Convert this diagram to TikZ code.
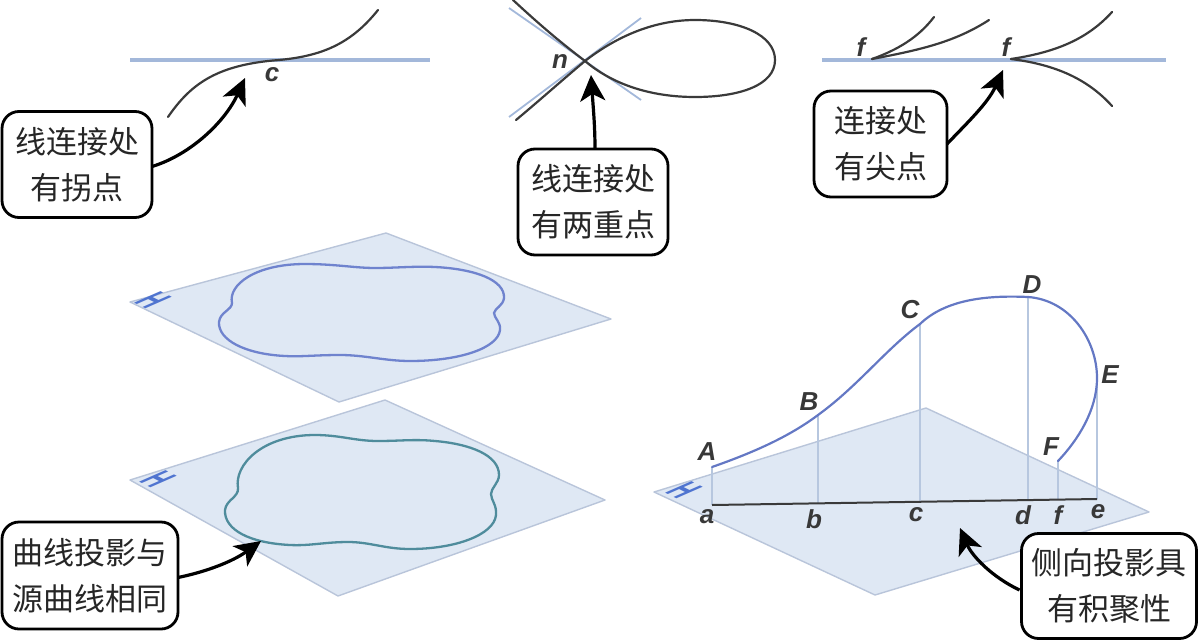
\documentclass[tikz,border=0pt]{standalone}
\usepackage{fontspec}
\setmainfont{Liberation Sans}
\newfontfamily\cjk{Noto Sans CJK SC}
\usetikzlibrary{arrows.meta}
\definecolor{planefill}{HTML}{DFE8F4}
\definecolor{planeedge}{HTML}{B9C5DA}
\definecolor{bluel}{HTML}{A3B8DA}
\definecolor{dropl}{HTML}{B7C7DF}
\definecolor{curveblue}{HTML}{6F83CE}
\definecolor{curveteal}{HTML}{4F8C9C}
\definecolor{curvespace}{HTML}{6478C4}
\definecolor{inkd}{HTML}{3A3A3A}
\definecolor{hblue}{HTML}{4F74D0}
\tikzset{
  callout/.style={draw=black,line width=2.8pt,rounded corners=17pt,fill=white,inner sep=0pt,outer sep=0pt,align=center,
    font=\cjk\fontsize{31}{46}\selectfont,text=black!85},
  pointer/.style={line width=3.2pt,black,-{Stealth[length=26pt,width=25pt,inset=7pt]}},
  plane/.style={fill=planefill,draw=planeedge,line width=1.4pt,line join=round},
  refline/.style={bluel,line width=3pt},
  drawn/.style={inkd,line width=2.2pt,line cap=round},
  dropline/.style={dropl,line width=1.6pt},
  lab/.style={font=\fontsize{26}{28}\selectfont\bfseries\itshape,text=black!78,inner sep=0pt},
  hmark/.style={font=\fontsize{24}{24}\selectfont\bfseries,text=hblue,inner sep=0pt,cm={0.8,-0.4,1.6,0.7,(0,0)}},
}
\begin{document}
\begin{tikzpicture}[x=1pt,y=-1pt]
\useasboundingbox (0,0) rectangle (1198,642);
% top-left: inflection
\coordinate (l1a) at (130,60); \coordinate (l1b) at (430,60);
\draw[refline] (l1a) -- (l1b);
\draw[drawn] (168,117) .. controls (190,85) and (215,66) .. (273,60.5) .. controls (320,57) and (350,45) .. (378,10);
\node[lab] (lc) at (272,75) {c};
\node[callout,minimum width=150pt,minimum height=106pt] (box1) at (77,164.5) {线连接处\\有拐点};
\coordinate (t1) at (245,78);
\draw[pointer] (box1.east)++(0,2) .. controls (190,155) and (225,122) .. (t1);
% top-middle: double point
\coordinate (t2a) at (509,8); \coordinate (t2b) at (641,100);
\coordinate (t2c) at (509,117); \coordinate (t2d) at (641,18);
\draw[refline,line width=1.8pt] (t2a) -- (t2b);
\draw[refline,line width=1.8pt] (t2c) -- (t2d);
\coordinate (dp) at (585,61);
\draw[drawn] (513,0) .. controls (540,25) and (560,42) .. (dp)
  .. controls (612,84) and (650,97) .. (695,97) .. controls (740,97) and (775,85) .. (775,60)
  .. controls (775,35) and (740,20) .. (695,20) .. controls (650,20) and (612,40) .. (dp)
  .. controls (560,82) and (540,100) .. (516,120);
\node[lab] (ln) at (560,62) {n};
\node[callout,minimum width=150pt,minimum height=106pt] (box2) at (593,202) {线连接处\\有两重点};
\coordinate (t2) at (591,75);
\draw[pointer] (box2.north)++(2,0) .. controls (595,125) and (593,105) .. (t2);
% top-right: cusps
\coordinate (l3a) at (822,60); \coordinate (l3b) at (1166,60);
\draw[refline] (l3a) -- (l3b);
\coordinate (cu1) at (872,59); \coordinate (cu2) at (1011,59);
\draw[drawn] (cu1) .. controls (897,50) and (918,38) .. (934,17);
\draw[drawn] (cu1) .. controls (920,50) and (955,42) .. (989,20);
\draw[drawn] (cu2) .. controls (1050,53) and (1085,42) .. (1112,12);
\draw[drawn] (cu2) .. controls (1050,64) and (1085,76) .. (1112,106);
\node[lab] (lf1) at (861,47) {f};
\node[lab] (lf2) at (1006,47) {f};
\node[callout,minimum width=133pt,minimum height=106pt] (box3) at (880.5,144) {连接处\\有尖点};
\coordinate (t3) at (1003,70);
\draw[pointer] (box3.east) .. controls (968,122) and (988,103) .. (t3);
% plane 1
\coordinate (p1a) at (130,302); \coordinate (p1b) at (386,233); \coordinate (p1c) at (611,319); \coordinate (p1d) at (339,402);
\draw[plane] (p1a) -- (p1b) -- (p1c) -- (p1d) -- cycle;
\draw[curveblue,line width=2.3pt] (232,303) .. controls (228,285) and (255,264) .. (305,264) .. controls (335,264) and (355,268) .. (375,268) .. controls (395,268) and (415,266) .. (435,267) .. controls (475,269) and (505,280) .. (504,298) .. controls (503,306) and (495,308) .. (494,313) .. controls (494,318) and (501,322) .. (500,330) .. controls (498,348) and (460,361) .. (410,361) .. controls (385,361) and (365,355) .. (340,355) .. controls (315,355) and (300,357) .. (285,356) .. controls (245,354) and (218,340) .. (219,322) .. controls (220,312) and (232,310) .. (232,303) -- cycle;
\node[hmark] (h1) at (153,300) {H};
% plane 2
\coordinate (p2a) at (130,480); \coordinate (p2b) at (385,400); \coordinate (p2c) at (605,500); \coordinate (p2d) at (338,596);
\draw[plane] (p2a) -- (p2b) -- (p2c) -- (p2d) -- cycle;
\draw[curveteal,line width=2.3pt] (238,488) .. controls (234,465) and (262,435) .. (315,435) .. controls (340,435) and (355,441) .. (378,441) .. controls (400,441) and (415,439) .. (435,441) .. controls (470,444) and (499,455) .. (499,475) .. controls (499,483) and (491,488) .. (491,494) .. controls (491,500) and (497,505) .. (496,515) .. controls (494,535) and (455,549) .. (410,549) .. controls (385,549) and (370,542) .. (348,542) .. controls (325,542) and (310,546) .. (290,545) .. controls (250,543) and (224,530) .. (225,510) .. controls (226,500) and (239,497) .. (238,488) -- cycle;
\node[hmark] (h2) at (158,479) {H};
\node[callout,minimum width=176pt,minimum height=107pt] (box4) at (90,575.5) {曲线投影与\\源曲线相同};
\coordinate (t4) at (261,541);
\draw[pointer] (box4.east)++(0,2) .. controls (205,572) and (232,562) .. (t4);
% plane 3
\coordinate (p3a) at (654,492); \coordinate (p3b) at (926,408); \coordinate (p3c) at (1149,512); \coordinate (p3d) at (875,595);
\draw[plane] (p3a) -- (p3b) -- (p3c) -- (p3d) -- cycle;
\coordinate (A) at (712,467); \coordinate (B) at (818,415); \coordinate (C) at (920,324);
\coordinate (D) at (1028,297); \coordinate (E) at (1097,378); \coordinate (F) at (1058,461);
\coordinate (a) at (712,505); \coordinate (b) at (818,503.5); \coordinate (c) at (920,502);
\coordinate (d) at (1028,500.5); \coordinate (f) at (1058,500); \coordinate (e) at (1097,499);
\foreach \u/\v in {A/a,B/b,C/c,D/d,F/f,E/e} \draw[dropline] (\u) -- (\v);
\draw[inkd,line width=2pt] (a) -- (e);
\draw[curvespace,line width=2.2pt,line cap=round] (A) .. controls (755,452) and (790,436) .. (B) .. controls (858,386) and (885,350) .. (C)
  .. controls (945,300) and (985,295) .. (D) .. controls (1070,300) and (1097,340) .. (E) .. controls (1097,410) and (1078,440) .. (F);
\node[hmark] (h3) at (684,490) {H};
\node[lab] (lA) at (707,452) {A};
\node[lab] (lB) at (809,402) {B};
\node[lab] (lC) at (910,310) {C};
\node[lab] (lD) at (1032,285) {D};
\node[lab] (lE) at (1110,375) {E};
\node[lab] (lF) at (1051,447) {F};
\node[lab] (la) at (707,517) {a};
\node[lab] (lb) at (814,519) {b};
\node[lab] (lcc) at (916,515) {c};
\node[lab] (ld) at (1023,515) {d};
\node[lab] (lff) at (1058,515) {f};
\node[lab] (le) at (1098,512) {e};
\node[callout,minimum width=175pt,minimum height=105pt] (box5) at (1109,586) {侧向投影具\\有积聚性};
\coordinate (t5) at (960,528);
\draw[pointer] (box5.west)++(-2,4) .. controls (992,577) and (972,556) .. (t5);
\end{tikzpicture}
\end{document}
